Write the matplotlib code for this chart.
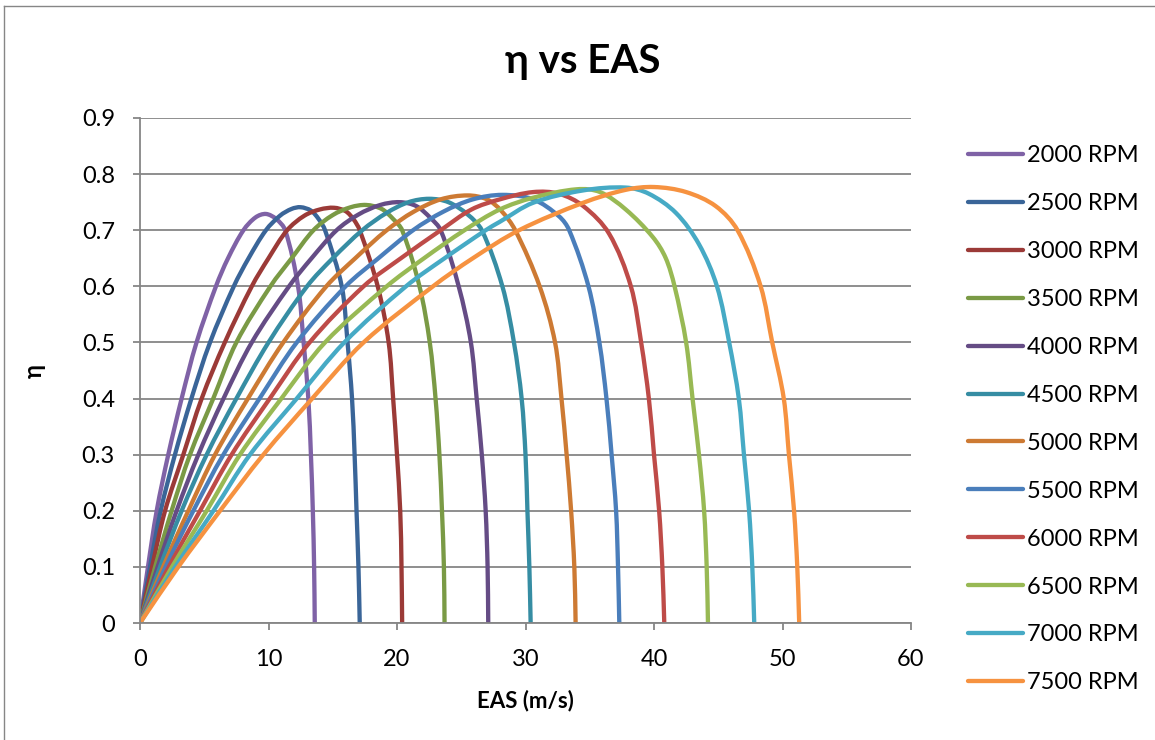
import matplotlib
matplotlib.use("Agg")
import matplotlib.pyplot as plt
from matplotlib.lines import Line2D
from matplotlib.path import Path
from matplotlib.patches import PathPatch

plt.rcParams['font.family'] = ['Lato', 'DejaVu Sans']

# series labels and colours
rpm_labels = ['2000 RPM', '2500 RPM', '3000 RPM', '3500 RPM', '4000 RPM', '4500 RPM',
              '5000 RPM', '5500 RPM', '6000 RPM', '6500 RPM', '7000 RPM', '7500 RPM']
colors = ['#7F62A6', '#3A6598', '#9B3A37', '#7A9A45', '#654C85', '#368DA3',
          '#CD7A33', '#4A7EBB', '#BE4B48', '#98B954', '#46AAC5', '#F69240']

# values (EAS in m/s, eta)
eas_2000 = [0, 0.62, 1.30, 2.20, 3.24, 4.40, 5.91, 6.85, 8.05, 9.0, 9.8, 10.6, 11.3, 12.3, 12.73, 13.1, 13.3, 13.45, 13.55, 13.6]
eta_2000 = [0, .1, .2, .3, .4, .5, .6, .65, .7, .723, .729, .72, .7, .6, .5, .4, .3, .2, .1, 0]

eas_2500 = [0, 0.78, 1.61, 2.72, 4.00, 5.45, 7.30, 8.45, 9.80, 10.9, 11.8, 12.5, 13.3, 13.9, 14.4, 15.7, 16.15, 16.5, 16.7, 16.85, 17.0, 17.1]
eta_2500 = [0, .1, .2, .3, .4, .5, .6, .65, .7, .726, .738, .741, .735, .72, .7, .6, .5, .4, .3, .2, .1, 0]

eas_3000 = [0, 0.94, 1.95, 3.37, 4.80, 6.60, 8.70, 10.0, 11.45, 12.8, 14.0, 15.1, 16.0, 16.6, 17.1, 18.5, 19.35, 19.7, 20.0, 20.25, 20.35, 20.4]
eta_3000 = [0, .1, .2, .3, .4, .5, .6, .65, .7, .726, .737, .740, .734, .72, .7, .6, .5, .4, .3, .2, .1, 0]

eas_3500 = [0, 1.18, 2.46, 3.89, 5.70, 7.50, 10.15, 11.80, 13.50, 15.0, 16.4, 17.6, 18.8, 19.7, 20.4, 21.75, 22.55, 23.0, 23.3, 23.5, 23.65, 23.7]
eta_3500 = [0, .1, .2, .3, .4, .5, .6, .65, .7, .727, .741, .745, .738, .72, .7, .6, .5, .4, .3, .2, .1, 0]

eas_4000 = [0, 1.37, 2.85, 4.54, 6.50, 8.70, 11.60, 13.35, 15.30, 17.0, 18.7, 20.2, 21.5, 22.6, 23.4, 24.8, 25.75, 26.2, 26.6, 26.9, 27.05, 27.1]
eta_4000 = [0, .1, .2, .3, .4, .5, .6, .65, .7, .728, .745, .750, .743, .722, .7, .6, .5, .4, .3, .2, .1, 0]

eas_4500 = [0, 1.56, 3.24, 5.19, 7.50, 10.00, 13.00, 15.00, 17.30, 19.2, 20.9, 22.5, 24.0, 25.5, 26.6, 28.2, 29.1, 29.7, 30.0, 30.15, 30.3, 30.4]
eta_4500 = [0, .1, .2, .3, .4, .5, .6, .65, .7, .731, .750, .756, .750, .728, .7, .6, .5, .4, .3, .2, .1, 0]

eas_5000 = [0, 1.80, 3.76, 5.84, 8.40, 11.15, 14.50, 16.75, 19.20, 21.3, 23.4, 25.5, 27.0, 28.1, 29.2, 31.1, 32.3, 32.8, 33.2, 33.55, 33.8, 33.9]
eta_5000 = [0, .1, .2, .3, .4, .5, .6, .65, .7, .733, .755, .762, .755, .735, .7, .6, .5, .4, .3, .2, .1, 0]

eas_5500 = [0, 1.99, 4.15, 6.49, 9.30, 12.20, 16.00, 18.55, 21.25, 23.6, 25.9, 28.2, 30.6, 32.6, 33.4, 34.9, 35.75, 36.3, 36.7, 37.05, 37.2, 37.3]
eta_5500 = [0, .1, .2, .3, .4, .5, .6, .65, .7, .733, .755, .763, .755, .725, .7, .6, .5, .4, .3, .2, .1, 0]

eas_6000 = [0, 2.24, 4.67, 7.13, 10.10, 13.20, 17.40, 20.30, 23.40, 25.8, 28.0, 30.6, 32.6, 34.5, 36.5, 38.2, 39.0, 39.6, 40.0, 40.4, 40.65, 40.8]
eta_6000 = [0, .1, .2, .3, .4, .5, .6, .65, .7, .737, .755, .768, .765, .743, .694, .6, .5, .4, .3, .2, .1, 0]

eas_6500 = [0, 2.49, 5.19, 7.78, 11.00, 14.40, 19.20, 22.10, 25.25, 28.0, 30.6, 34.0, 35.8, 37.8, 39.9, 40.9, 41.6, 42.5, 43.0, 43.5, 43.9, 44.1, 44.2]
eta_6500 = [0, .1, .2, .3, .4, .5, .6, .65, .7, .737, .758, .773, .768, .737, .688, .651, .6, .5, .4, .3, .2, .1, 0]

eas_7000 = [0, 2.74, 5.71, 8.56, 12.20, 15.90, 20.70, 23.70, 26.90, 28.0, 30.6, 34.5, 37.8, 39.6, 41.7, 43.5, 44.9, 45.85, 46.6, 47.0, 47.4, 47.65, 47.8]
eta_7000 = [0, .1, .2, .3, .4, .5, .6, .65, .7, .715, .749, .771, .776, .765, .731, .675, .6, .5, .4, .3, .2, .1, 0]

eas_7500 = [0, 2.98, 6.23, 9.60, 13.40, 17.40, 22.80, 25.90, 29.50, 34.5, 37.8, 40.0, 42.5, 44.8, 46.5, 48.3, 49.2, 50.1, 50.5, 50.9, 51.15, 51.3]
eta_7500 = [0, .1, .2, .3, .4, .5, .6, .65, .7, .749, .772, .777, .768, .743, .7, .6, .5, .4, .3, .2, .1, 0]

x_ticks = [0, 10, 20, 30, 40, 50, 60]
y_ticks = [0, 0.1, 0.2, 0.3, 0.4, 0.5, 0.6, 0.7, 0.8, 0.9]
y_tick_labels = ['0', '0.1', '0.2', '0.3', '0.4', '0.5', '0.6', '0.7', '0.8', '0.9']

series = [(eas_2000, eta_2000), (eas_2500, eta_2500), (eas_3000, eta_3000),
          (eas_3500, eta_3500), (eas_4000, eta_4000), (eas_4500, eta_4500),
          (eas_5000, eta_5000), (eas_5500, eta_5500), (eas_6000, eta_6000),
          (eas_6500, eta_6500), (eas_7000, eta_7000), (eas_7500, eta_7500)]

W, H = 1155, 740
X_RANGE, Y_RANGE = 60, 0.9
AX_W, AX_H = 771, 505


def dist(a, b):
    # distance in screen-ish units so x and y weigh the same
    dx = (b[0] - a[0]) / X_RANGE * AX_W
    dy = (b[1] - a[1]) / Y_RANGE * AX_H
    return (dx * dx + dy * dy) ** 0.5


def smooth_path(xs, ys):
    # Excel-style "smoothed line": cubic bezier through the points
    pts = list(zip(xs, ys))
    n = len(pts)
    verts = [pts[0]]
    codes = [Path.MOVETO]
    for i in range(n - 1):
        p0 = pts[i - 1] if i > 0 else pts[i]
        p1 = pts[i]
        p2 = pts[i + 1]
        p3 = pts[i + 2] if i + 2 < n else pts[i + 1]
        d01, d12, d23 = dist(p0, p1), dist(p1, p2), dist(p2, p3)
        k1 = d12 / (3 * (d01 + d12))
        k2 = d12 / (3 * (d12 + d23))
        c1 = (p1[0] + (p2[0] - p0[0]) * k1, p1[1] + (p2[1] - p0[1]) * k1)
        c2 = (p2[0] - (p3[0] - p1[0]) * k2, p2[1] - (p3[1] - p1[1]) * k2)
        verts += [c1, c2, p2]
        codes += [Path.CURVE4] * 3
    return Path(verts, codes)


fig = plt.figure(figsize=(W / 100, H / 100), dpi=100)
ax = fig.add_axes([140 / W, 1 - 623 / H, AX_W / W, AX_H / H])

grid_col = '#868686'
lw = 3.1
for (xs, ys), c in zip(series, colors):
    ax.add_patch(PathPatch(smooth_path(xs, ys), fill=False, edgecolor=c, lw=lw,
                           capstyle='round', joinstyle='round'))

ax.set_xlim(0, X_RANGE)
ax.set_ylim(0, Y_RANGE)
ax.set_xticks(x_ticks)
ax.set_yticks(y_ticks)
ax.set_yticklabels(y_tick_labels)
ax.yaxis.grid(True, color=grid_col, lw=1.3)
ax.set_axisbelow(True)
for s in ['top', 'right']:
    ax.spines[s].set_visible(False)
for s in ['left', 'bottom']:
    ax.spines[s].set_color(grid_col)
    ax.spines[s].set_linewidth(1.3)
ax.tick_params(axis='both', direction='out', length=5, width=1.3, color=grid_col,
               labelsize=17, labelcolor='black')
ax.tick_params(axis='x', pad=14)
ax.tick_params(axis='y', pad=13)

ax.set_xlabel('EAS (m/s)', fontsize=16, fontweight='bold', labelpad=14)
ax.set_ylabel('η', fontsize=17, fontweight='bold', labelpad=26)
fig.text(583 / W, 1 - 62 / H, 'η vs EAS', fontsize=29, fontweight='bold',
         ha='center', va='center')

handles = [Line2D([], [], color=c, lw=lw, solid_capstyle='round') for c in colors]
fig.legend(handles, rpm_labels, loc='upper left', bbox_to_anchor=(947 / W, 1 - 124 / H),
           frameon=False, fontsize=17, handlelength=2.3, handletextpad=0.2,
           labelspacing=1.14, borderpad=0.4)

# chart area border
fig.add_artist(Line2D([4 / W, 1], [1 - 6 / H, 1 - 6 / H], color=grid_col, lw=1))
fig.add_artist(Line2D([4 / W, 4 / W], [0, 1 - 6 / H], color=grid_col, lw=1))

fig.savefig('out.png', dpi=100)
